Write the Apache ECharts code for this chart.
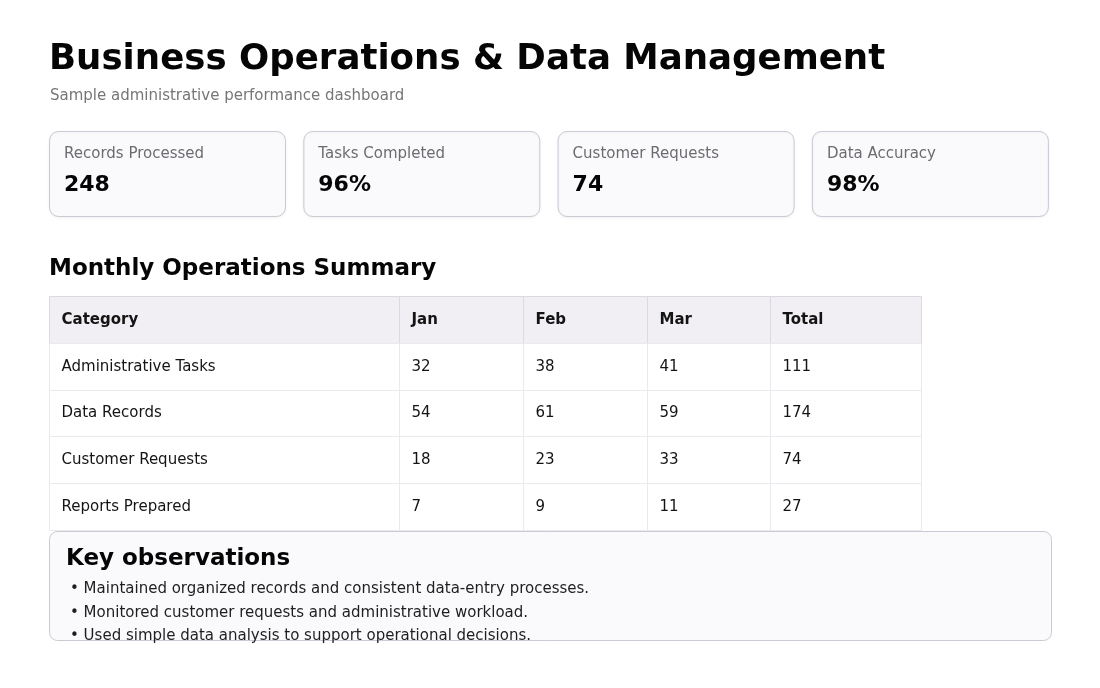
<!DOCTYPE html>
<html>
<head>
<meta charset="utf-8">
<script src="https://cdn.jsdelivr.net/npm/echarts@6/dist/echarts.min.js"></script>
<style>
html,body{margin:0;padding:0;background:#ffffff;}
#chart{width:1100px;height:688px;}
</style>
</head>
<body>
<div id="chart"></div>
<script>
// ---- data ----
const titleText = 'Business Operations & Data Management';
const subtitleText = 'Sample administrative performance dashboard';
const kpiLabels = ['Records Processed', 'Tasks Completed', 'Customer Requests', 'Data Accuracy'];
const kpiValues = ['248', '96%', '74', '98%'];
const sectionTitle = 'Monthly Operations Summary';
const columns = ['Category', 'Jan', 'Feb', 'Mar', 'Total'];
const categories = ['Administrative Tasks', 'Data Records', 'Customer Requests', 'Reports Prepared'];
const janValues = [32, 54, 18, 7];
const febValues = [38, 61, 23, 9];
const marValues = [41, 59, 33, 11];
const totalValues = [111, 174, 74, 27];
const obsTitle = 'Key observations';
const observations = [
  'Maintained organized records and consistent data-entry processes.',
  'Monitored customer requests and administrative workload.',
  'Used simple data analysis to support operational decisions.'
];

// ---- layout / style ----
const FONT = '"DejaVu Sans", "Noto Sans", sans-serif';
const colEdges = [0, 350, 474, 598, 721, 872];
const tableLeft = 49, tableTop = 296, tableWidth = 872, tableHeight = 234;

// build table cells
const cells = [];
columns.forEach((c, i) => cells.push({col: i, row: 0, text: c, header: true}));
categories.forEach((cat, r) => {
  const rowVals = [cat, janValues[r], febValues[r], marValues[r], totalValues[r]];
  rowVals.forEach((v, i) => cells.push({col: i, row: r + 1, text: String(v), header: false}));
});
const rowNames = ['header'].concat(categories);

const chart = echarts.init(document.getElementById('chart'), null, {renderer: 'canvas'});

// graphic elements
const graphics = [];
graphics.push({
  type: 'text', x: 49, y: 42, z: 10,
  style: {text: titleText, fill: '#050505', font: 'bold 35.6px ' + FONT}
});
graphics.push({
  type: 'text', x: 50, y: 89, z: 10,
  style: {text: subtitleText, fill: '#767676', font: '15px ' + FONT}
});
const cardX0 = 49, cardW = 236, cardGap = 18.3, cardY = 131, cardH = 85;
kpiLabels.forEach((lab, i) => {
  const x = cardX0 + i * (cardW + cardGap);
  graphics.push({
    type: 'rect', z: 5,
    shape: {x: x + 0.5, y: cardY + 0.5, width: cardW, height: cardH, r: 9},
    style: {fill: '#faf9fc', stroke: '#cdc8d3', lineWidth: 1,
            shadowBlur: 3, shadowColor: 'rgba(0,0,0,0.05)', shadowOffsetY: 1}
  });
  graphics.push({
    type: 'text', z: 10, x: x + 15, y: 147,
    style: {text: lab, fill: '#6c6c70', font: '15px ' + FONT}
  });
  graphics.push({
    type: 'text', z: 10, x: x + 15, y: 174,
    style: {text: kpiValues[i], fill: '#050505', font: 'bold 22px ' + FONT}
  });
});
graphics.push({
  type: 'text', x: 49, y: 258, z: 10,
  style: {text: sectionTitle, fill: '#050505', font: 'bold 23px ' + FONT}
});
// observations box
graphics.push({
  type: 'rect', z: 50,
  shape: {x: 49.5, y: 531.5, width: 1002, height: 109, r: 8},
  style: {fill: '#faf9fc', stroke: '#cdc8d3', lineWidth: 1}
});
graphics.push({
  type: 'text', x: 66, y: 548, z: 60,
  style: {text: obsTitle, fill: '#050505', font: 'bold 23px ' + FONT}
});
observations.forEach((t, i) => {
  graphics.push({
    type: 'text', x: 70, y: 582 + i * 23.5, z: 60,
    style: {text: '\u2022 ' + t, fill: '#1e1e1e', font: '15px ' + FONT}
  });
});

const option = {
  backgroundColor: '#ffffff',
  animation: false,
  grid: {left: tableLeft, top: tableTop, width: tableWidth, height: tableHeight},
  xAxis: {type: 'value', min: 0, max: 872, show: false},
  yAxis: {type: 'category', data: rowNames, inverse: true, show: false},
  series: [{
    type: 'custom',
    coordinateSystem: 'cartesian2d',
    clip: false,
    z: 2,
    data: cells.map(c => [c.col, c.row]),
    renderItem: function (params, api) {
      const cell = cells[params.dataIndex];
      const col = api.value(0), row = api.value(1);
      const pL = api.coord([colEdges[col], row]);
      const pR = api.coord([colEdges[col + 1], row]);
      const h = api.size([0, 1])[1];
      const x = Math.round(pL[0]) + 0.5, w = Math.round(pR[0]) - Math.round(pL[0]);
      const y = Math.round(pL[1] - h / 2) + 0.5;
      const hh = Math.round(pL[1] + h / 2) - Math.round(pL[1] - h / 2);
      return {
        type: 'group',
        children: [
          {
            type: 'rect',
            shape: {x: x, y: y, width: w, height: hh},
            style: {fill: cell.header ? '#f1eff3' : '#ffffff',
                    stroke: cell.header ? '#dcd9e0' : '#ebe9ed', lineWidth: 1}
          },
          {
            type: 'text',
            style: {
              text: cell.text, x: x + 12, y: pL[1] + 0.5,
              verticalAlign: 'middle', textVerticalAlign: 'middle',
              align: 'left', textAlign: 'left',
              fill: '#141414',
              font: (cell.header ? 'bold ' : '') + '15px ' + FONT
            }
          }
        ]
      };
    }
  }],
  graphic: {elements: graphics}
};
chart.setOption(option);
</script>
</body>
</html>
